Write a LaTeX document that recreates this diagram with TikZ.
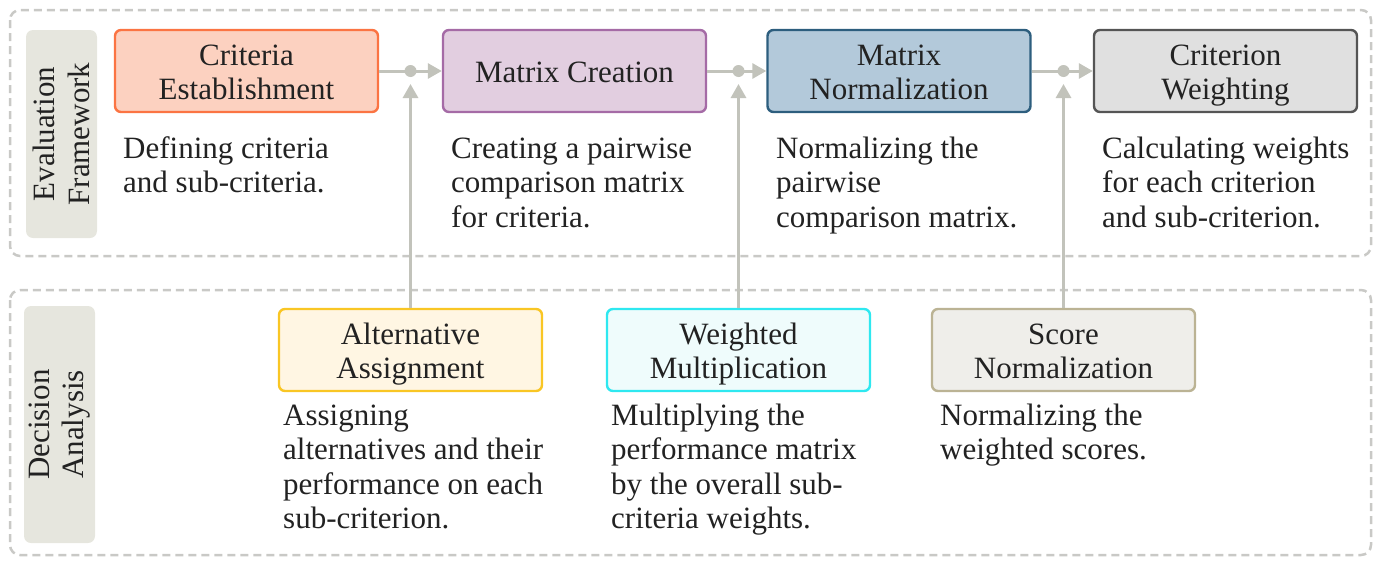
\documentclass[tikz,border=0pt]{standalone}
\usepackage{fontspec}
\setmainfont{Liberation Serif}
\usetikzlibrary{arrows.meta}

\definecolor{ink}{HTML}{222222}
\definecolor{framegray}{HTML}{C9C9C6}
\definecolor{flowgray}{HTML}{C2C3BB}
\definecolor{lanefill}{HTML}{E6E6DE}

\definecolor{ceFill}{HTML}{FCD1C0}\definecolor{ceLine}{HTML}{FB7443}
\definecolor{mcFill}{HTML}{E2CEE0}\definecolor{mcLine}{HTML}{A56BA6}
\definecolor{mnFill}{HTML}{B3C9DA}\definecolor{mnLine}{HTML}{2D5E7E}
\definecolor{cwFill}{HTML}{E0E0E0}\definecolor{cwLine}{HTML}{555555}
\definecolor{aaFill}{HTML}{FFF6E3}\definecolor{aaLine}{HTML}{F9C624}
\definecolor{wmFill}{HTML}{EFFCFC}\definecolor{wmLine}{HTML}{2EE8F0}
\definecolor{snFill}{HTML}{EFEEEA}\definecolor{snLine}{HTML}{BBB394}

% invisible rule giving every stage label the same first-line height
\newcommand{\stagetop}{\rule{0pt}{30pt}}

\tikzset{
  every node/.style={font=\fontsize{31}{34.5}\selectfont, text=ink},
  stage/.style={draw, line width=2.4pt, rounded corners=6pt,
    minimum width=263pt, minimum height=82pt, align=center, inner sep=0pt,
    execute at end node={\rule[-7pt]{0pt}{0pt}}},
  % anchored at the baseline of the last line
  desc/.style={anchor=base west, align=left, inner sep=0pt},
  flow/.style={draw=flowgray, line width=3pt, -{Triangle[length=14pt,width=15pt]}},
  junction/.style={circle, fill=flowgray, minimum size=12pt, inner sep=0pt},
  groupframe/.style={draw=framegray, line width=2.5pt,
    dash pattern=on 8pt off 5pt, rounded corners=10pt},
  lanelabel/.style={fill=lanefill, rounded corners=7pt, rotate=90,
    align=center, inner sep=0pt, minimum height=71pt}
}

\begin{document}
\begin{tikzpicture}[x=1pt,y=-1pt]
\useasboundingbox (0,0) rectangle (1379,560);

% group frames
\draw[groupframe] (10,10) rectangle (1371,256);
\draw[groupframe] (10,290) rectangle (1371,555);

% lane labels
\node[lanelabel, minimum width=208pt] (laneEF) at (61.5,134) {Evaluation\\Framework};
\node[lanelabel, minimum width=237pt] (laneDA) at (59.5,424.5) {Decision\\Analysis};

% evaluation framework stages
\node[stage, fill=ceFill, draw=ceLine] (CE) at (246.5,71) {\stagetop Criteria\\Establishment};
\node[stage, fill=mcFill, draw=mcLine] (MC) at (574.5,71) {\stagetop Matrix Creation};
\node[stage, fill=mnFill, draw=mnLine] (MN) at (899,71) {\stagetop Matrix\\Normalization};
\node[stage, fill=cwFill, draw=cwLine] (CW) at (1225.5,71) {\stagetop Criterion\\Weighting};

% decision analysis stages
\node[stage, fill=aaFill, draw=aaLine] (AA) at (410.5,350) {\stagetop Alternative\\Assignment};
\node[stage, fill=wmFill, draw=wmLine] (WM) at (738.5,350) {\stagetop Weighted\\Multiplication};
\node[stage, fill=snFill, draw=snLine] (SN) at (1063.5,350) {\stagetop Score\\Normalization};

% descriptions
\node[desc] (dCE) at (123,192.5) {Defining criteria\\and sub-criteria.};
\node[desc] (dMC) at (451,227) {Creating a pairwise\\comparison matrix\\for criteria.};
\node[desc] (dMN) at (776,227) {Normalizing the\\pairwise\\comparison matrix.};
\node[desc] (dCW) at (1102,227) {Calculating weights\\for each criterion\\and sub-criterion.};
\node[desc] (dAA) at (283,528.5) {Assigning\\alternatives and their\\performance on each\\sub-criterion.};
\node[desc] (dWM) at (611,528.5) {Multiplying the\\performance matrix\\by the overall sub-\\criteria weights.};
\node[desc] (dSN) at (940,459.5) {Normalizing the\\weighted scores.};

% main flow with merge points
\draw[flow] (CE.east) -- (MC.west);
\draw[flow] (MC.east) -- (MN.west);
\draw[flow] (MN.east) -- (CW.west);

\node[junction] (j1) at (AA.north |- CE.east) {};
\node[junction] (j2) at (WM.north |- MC.east) {};
\node[junction] (j3) at (SN.north |- MN.east) {};

\draw[flow] (AA.north) -- ([yshift=-13pt]j1.center);
\draw[flow] (WM.north) -- ([yshift=-13pt]j2.center);
\draw[flow] (SN.north) -- ([yshift=-13pt]j3.center);
\end{tikzpicture}
\end{document}
